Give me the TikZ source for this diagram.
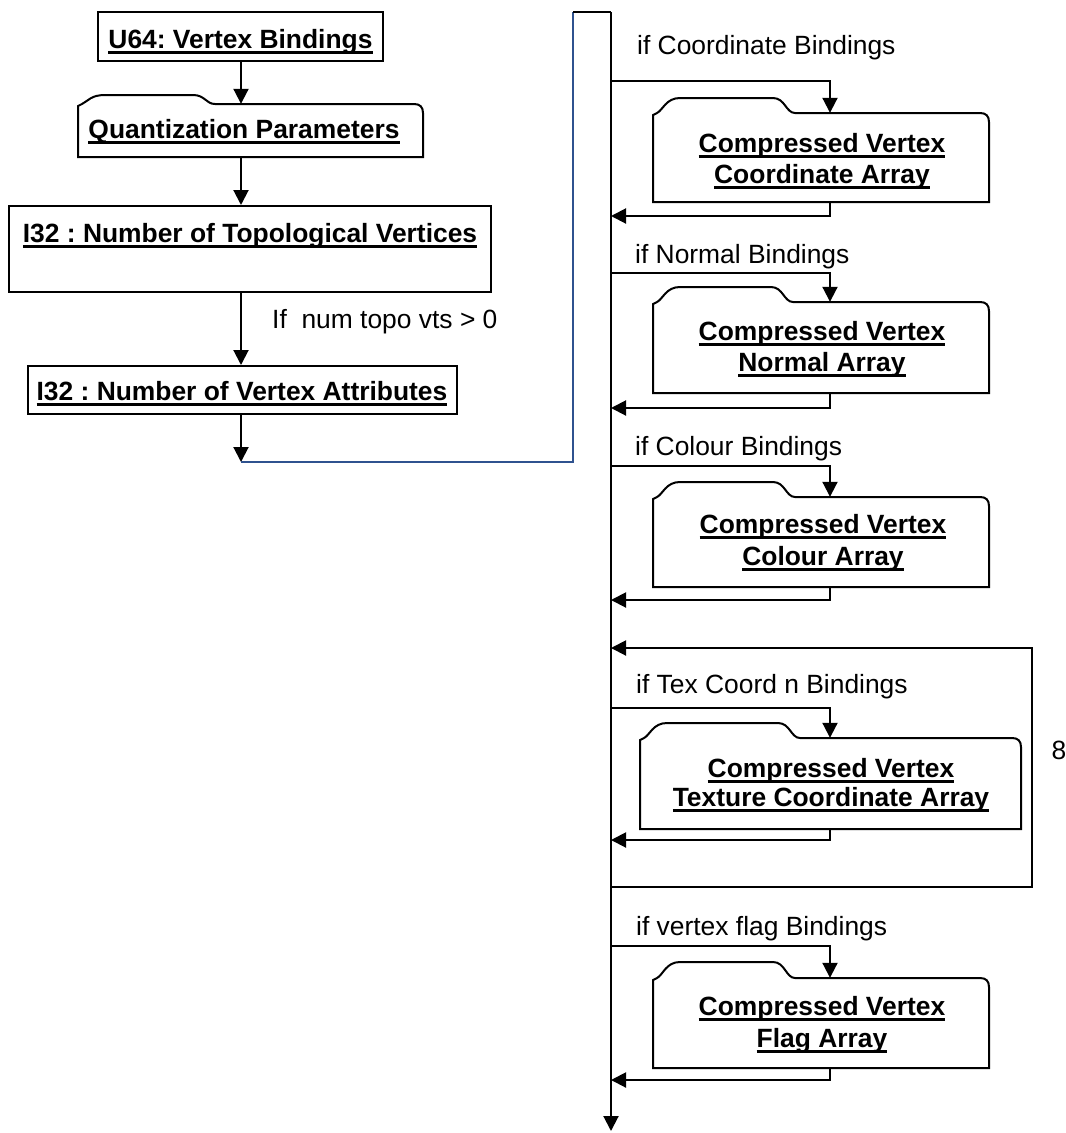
\documentclass[tikz,border=0pt]{standalone}
\usepackage{fontspec}
\setmainfont{Liberation Sans}
\usetikzlibrary{arrows.meta,fit}
\frenchspacing

\definecolor{linkblue}{RGB}{47,82,143}

% bold text with a heavy underline
\newcommand{\ulbold}[1]{\setbox0=\hbox{\bfseries #1}\rlap{\rule[-5.5pt]{\wd0}{2.7pt}}\box0}

% tabbed "card" box: name, left, right, tab top, body top, bottom, tab end
\newcommand{\tabbox}[7]{%
  \coordinate (#1-nw) at (#2,#5);
  \coordinate (#1-se) at (#3,#6);
  \node[fit=(#1-nw)(#1-se), inner sep=0pt] (#1) {};
  \draw[boxline] (#2,#6) -- (#2,#5+2) -- (#2+4,#5)
     .. controls (#2+10,#5-3) and (#2+13,#4) .. (#2+27,#4)
     -- (#7-22,#4) .. controls (#7-10,#4) and (#7-9,#5) .. (#7,#5)
     -- (#3-9,#5) .. controls (#3-3,#5) and (#3,#5+3) .. (#3,#5+9)
     -- (#3,#6) -- cycle;
}

\begin{document}
\begin{tikzpicture}[x=1pt,y=-1pt,
  every node/.style={font=\fontsize{26.4}{31}\selectfont, inner sep=0pt},
  boxline/.style={draw=black, line width=2pt, line join=miter},
  plainbox/.style={draw=black, line width=2pt, rectangle, inner sep=0pt},
  flow/.style={line width=2pt, -{Triangle[length=15pt,width=15pt]}},
  wire/.style={line width=2pt},
  link/.style={line width=1.3pt, draw=linkblue},
  boxtext/.style={anchor=base},
  condtext/.style={anchor=base west},
]
\useasboundingbox (0,0) rectangle (1066,1133);

% ---------- left column ----------
\coordinate (lx) at (241,0);

\node[plainbox, minimum width=285pt, minimum height=49pt] (u64) at (240.5,36.5) {};
\node[boxtext] (u64t) at (240.5,48) {\ulbold{U64: Vertex Bindings}};

\tabbox{quant}{78}{423}{95}{104}{157}{215}
\node[boxtext] (quantt) at (244,138) {\ulbold{Quantization Parameters}};

\node[plainbox, minimum width=482pt, minimum height=86pt] (topo) at (250,249) {};
\node[boxtext] (topot) at (250,242) {\ulbold{I32 : Number of Topological Vertices}};

\node[plainbox, minimum width=429pt, minimum height=48pt] (attr) at (242.5,390) {};
\node[boxtext] (attrt) at (242,400) {\ulbold{I32 : Number of Vertex Attributes}};

\draw[flow] (u64.south -| lx) -- (quant.north -| lx);
\draw[flow] (quant.south -| lx) -- (topo.north -| lx);
\draw[flow] (topo.south -| lx) -- (attr.north -| lx);
\node[condtext] (topocond) at (272,328) {If\ \ num topo vts > 0};

% link over to the right-hand column
\coordinate (linkA) at (241,462);
\coordinate (linkB) at (573,462);
\coordinate (linkC) at (573,12);
\draw[flow] (attr.south -| lx) -- (linkA);
\draw[link] (linkA) -- (linkB) -- (linkC);

% ---------- right column ----------
\coordinate (ax) at (830,0);
\coordinate (mtop) at (611,12);
\coordinate (mend) at (611,1131);
\draw[wire] (linkC) -- (mtop);
\draw[flow] (mtop) -- (mend);

% coordinates
\node[condtext] (coordc) at (637,54) {if Coordinate Bindings};
\tabbox{coordbox}{653}{989}{98}{113}{202}{795}
\node[boxtext] (coordt1) at (822,152) {\ulbold{Compressed Vertex}};
\node[boxtext] (coordt2) at (822,183) {\ulbold{Coordinate Array}};
\coordinate (coordIn) at (611,81);
\coordinate (coordOut) at (611,216);
\draw[flow] (coordIn) -| (coordbox.north -| ax);
\draw[flow] (coordbox.south -| ax) |- (coordOut);

% normals
\node[condtext] (normc) at (635,263) {if Normal Bindings};
\tabbox{normbox}{653}{989}{287}{302}{393}{793}
\node[boxtext] (normt1) at (822,340) {\ulbold{Compressed Vertex}};
\node[boxtext] (normt2) at (822,371) {\ulbold{Normal Array}};
\coordinate (normIn) at (611,273);
\coordinate (normOut) at (611,408);
\draw[flow] (normIn) -| (normbox.north -| ax);
\draw[flow] (normbox.south -| ax) |- (normOut);

% colours
\node[condtext] (colc) at (635,455) {if Colour Bindings};
\tabbox{colbox}{653}{989}{482}{497}{587}{795}
\node[boxtext] (colt1) at (823,533) {\ulbold{Compressed Vertex}};
\node[boxtext] (colt2) at (823,565) {\ulbold{Colour Array}};
\coordinate (colIn) at (611,466);
\coordinate (colOut) at (611,600);
\draw[flow] (colIn) -| (colbox.north -| ax);
\draw[flow] (colbox.south -| ax) |- (colOut);

% texture coordinates, repeated 8 times
\coordinate (loopIn) at (611,648);
\coordinate (loopTop) at (1032,648);
\coordinate (loopBot) at (1032,887);
\coordinate (loopEnd) at (611,887);
\draw[flow] (loopEnd) -- (loopBot) -- (loopTop) -- (loopIn);
\node (loopcount) at (1059,750) {8};

\node[condtext] (texc) at (636,693) {if Tex Coord n Bindings};
\tabbox{texbox}{640}{1021}{723}{738}{829}{800}
\node[boxtext] (text1) at (831,777) {\ulbold{Compressed Vertex}};
\node[boxtext] (text2) at (831,806) {\ulbold{Texture Coordinate Array}};
\coordinate (texIn) at (611,708);
\coordinate (texOut) at (611,840);
\draw[flow] (texIn) -| (texbox.north -| ax);
\draw[flow] (texbox.south -| ax) |- (texOut);

% vertex flags
\node[condtext] (flagc) at (636,935) {if vertex flag Bindings};
\tabbox{flagbox}{653}{989}{962}{978}{1068}{795}
\node[boxtext] (flagt1) at (822,1015) {\ulbold{Compressed Vertex}};
\node[boxtext] (flagt2) at (822,1047) {\ulbold{Flag Array}};
\coordinate (flagIn) at (611,946);
\coordinate (flagOut) at (611,1080);
\draw[flow] (flagIn) -| (flagbox.north -| ax);
\draw[flow] (flagbox.south -| ax) |- (flagOut);
\end{tikzpicture}
\end{document}
